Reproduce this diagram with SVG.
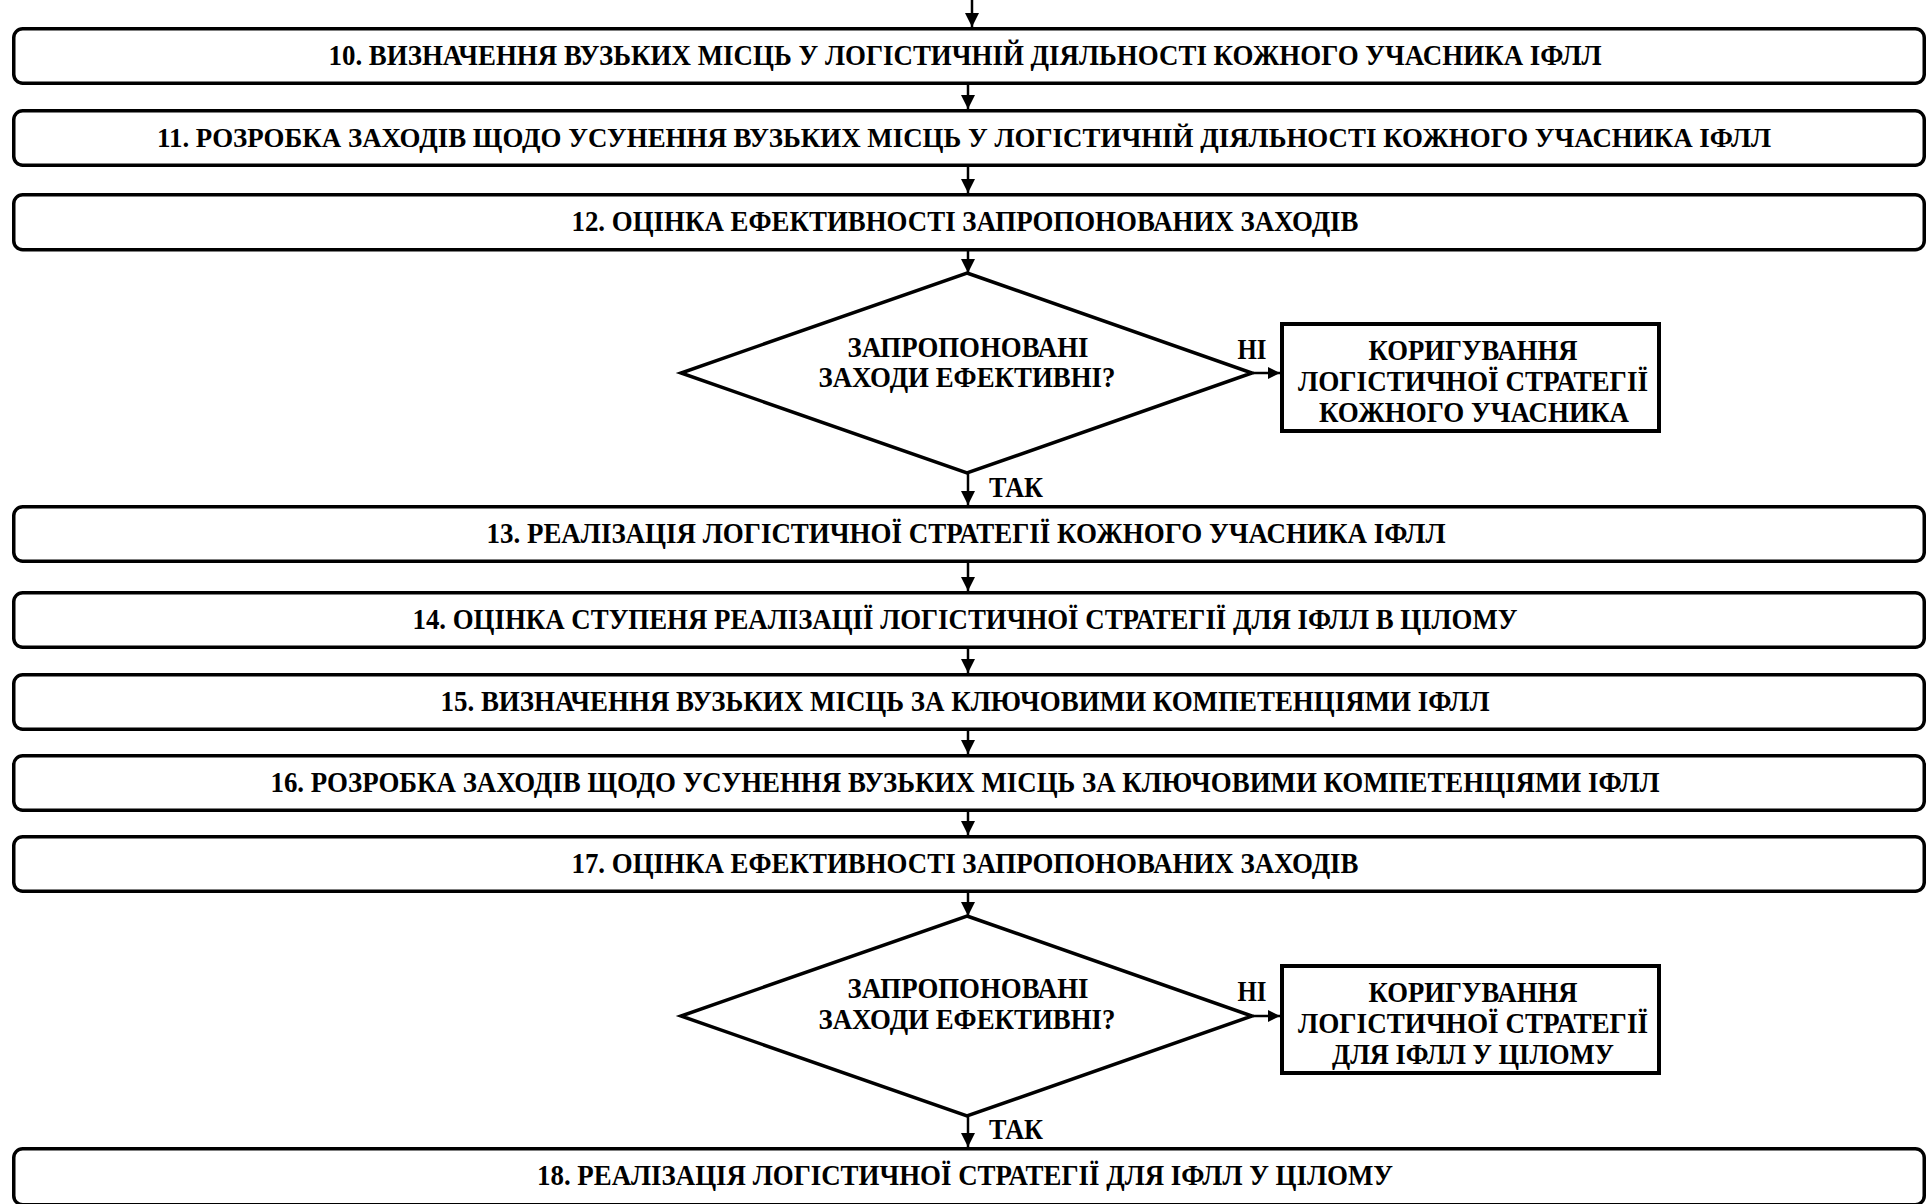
<svg xmlns="http://www.w3.org/2000/svg" width="1928" height="1204" viewBox="0 0 1928 1204">
  <defs>
    <style>
      .box { fill: #ffffff; stroke: #000000; stroke-width: 3.5; }
      .sq { fill: #ffffff; stroke: #000000; stroke-width: 4; }
      .dia { fill: #ffffff; stroke: #000000; stroke-width: 3.5; stroke-linejoin: miter; }
      .t { font-family: "Liberation Serif", "Times New Roman", serif; font-weight: bold; font-size: 30px; fill: #000000; text-anchor: middle; }
      .lbl { font-family: "Liberation Serif", "Times New Roman", serif; font-weight: bold; font-size: 30px; fill: #000000; }
      .con { stroke: #000000; stroke-width: 2.5; fill: none; }
    </style>
    <marker id="arr" viewBox="0 0 14 14" refX="14" refY="7" markerWidth="14" markerHeight="14" markerUnits="userSpaceOnUse" orient="auto">
      <path d="M0,0 L14,7 L0,14 z" fill="#000000"/>
    </marker>
    <marker id="arrs" viewBox="0 0 12 12" refX="12" refY="6" markerWidth="12" markerHeight="12" markerUnits="userSpaceOnUse" orient="auto">
      <path d="M0,0 L12,6 L0,12 z" fill="#000000"/>
    </marker>
  </defs>
  <rect x="0" y="0" width="1928" height="1204" fill="#ffffff"/>

  <g id="connectors">
    <line class="con" x1="972" y1="0" x2="972" y2="27" marker-end="url(#arr)"/>
    <line class="con" x1="968" y1="85" x2="968" y2="109" marker-end="url(#arr)"/>
    <line class="con" x1="968" y1="167" x2="968" y2="193" marker-end="url(#arr)"/>
    <line class="con" x1="968" y1="251" x2="968" y2="273" marker-end="url(#arr)"/>
    <line class="con" x1="968" y1="474" x2="968" y2="505" marker-end="url(#arr)"/>
    <line class="con" x1="1253" y1="373" x2="1280" y2="373" marker-end="url(#arrs)"/>
    <line class="con" x1="968" y1="563" x2="968" y2="591" marker-end="url(#arr)"/>
    <line class="con" x1="968" y1="649" x2="968" y2="673" marker-end="url(#arr)"/>
    <line class="con" x1="968" y1="731" x2="968" y2="754" marker-end="url(#arr)"/>
    <line class="con" x1="968" y1="812" x2="968" y2="835" marker-end="url(#arr)"/>
    <line class="con" x1="968" y1="893" x2="968" y2="916" marker-end="url(#arr)"/>
    <line class="con" x1="968" y1="1117" x2="968" y2="1147" marker-end="url(#arr)"/>
    <line class="con" x1="1253" y1="1016" x2="1280" y2="1016" marker-end="url(#arrs)"/>
    <text class="lbl" x="1252" y="359" text-anchor="middle" textLength="29" lengthAdjust="spacingAndGlyphs">НІ</text>
    <text class="lbl" x="989" y="497" textLength="54" lengthAdjust="spacingAndGlyphs">ТАК</text>
    <text class="lbl" x="1252" y="1001" text-anchor="middle" textLength="29" lengthAdjust="spacingAndGlyphs">НІ</text>
    <text class="lbl" x="989" y="1139" textLength="54" lengthAdjust="spacingAndGlyphs">ТАК</text>
  </g>

  <g id="step10">
    <rect class="box" x="13.75" y="28.75" width="1910.5" height="54.5" rx="9"/>
    <text class="t" x="965" y="65" textLength="1273" lengthAdjust="spacingAndGlyphs">10. ВИЗНАЧЕННЯ ВУЗЬКИХ МІСЦЬ У ЛОГІСТИЧНІЙ ДІЯЛЬНОСТІ КОЖНОГО УЧАСНИКА ІФЛЛ</text>
  </g>
  <g id="step11">
    <rect class="box" x="13.75" y="110.75" width="1910.5" height="54.5" rx="9"/>
    <text class="t" x="964" y="147" style="font-size:28px" textLength="1614" lengthAdjust="spacingAndGlyphs">11. РОЗРОБКА ЗАХОДІВ ЩОДО УСУНЕННЯ ВУЗЬКИХ МІСЦЬ У ЛОГІСТИЧНІЙ ДІЯЛЬНОСТІ КОЖНОГО УЧАСНИКА ІФЛЛ</text>
  </g>
  <g id="step12">
    <rect class="box" x="13.75" y="194.75" width="1910.5" height="55" rx="9"/>
    <text class="t" x="965" y="231" textLength="787" lengthAdjust="spacingAndGlyphs">12. ОЦІНКА ЕФЕКТИВНОСТІ ЗАПРОПОНОВАНИХ ЗАХОДІВ</text>
  </g>
  <g id="decision1">
    <polygon class="dia" points="967,273 1252,373 967,473 681,373"/>
    <text class="t" x="968" y="357" textLength="241" lengthAdjust="spacingAndGlyphs">ЗАПРОПОНОВАНІ</text>
    <text class="t" x="967" y="387" textLength="297" lengthAdjust="spacingAndGlyphs">ЗАХОДИ ЕФЕКТИВНІ?</text>
  </g>
  <g id="correction1">
    <rect class="sq" x="1282" y="324" width="377" height="107"/>
    <text class="t" x="1473" y="360" textLength="209" lengthAdjust="spacingAndGlyphs">КОРИГУВАННЯ</text>
    <text class="t" x="1473" y="391" textLength="350" lengthAdjust="spacingAndGlyphs">ЛОГІСТИЧНОЇ СТРАТЕГІЇ</text>
    <text class="t" x="1474" y="422" textLength="310" lengthAdjust="spacingAndGlyphs">КОЖНОГО УЧАСНИКА</text>
  </g>
  <g id="step13">
    <rect class="box" x="13.75" y="506.75" width="1910.5" height="54.5" rx="9"/>
    <text class="t" x="966" y="543" textLength="959" lengthAdjust="spacingAndGlyphs">13. РЕАЛІЗАЦІЯ ЛОГІСТИЧНОЇ СТРАТЕГІЇ КОЖНОГО УЧАСНИКА ІФЛЛ</text>
  </g>
  <g id="step14">
    <rect class="box" x="13.75" y="592.75" width="1910.5" height="54.5" rx="9"/>
    <text class="t" x="965" y="629" textLength="1105" lengthAdjust="spacingAndGlyphs">14. ОЦІНКА СТУПЕНЯ РЕАЛІЗАЦІЇ ЛОГІСТИЧНОЇ СТРАТЕГІЇ ДЛЯ ІФЛЛ В ЦІЛОМУ</text>
  </g>
  <g id="step15">
    <rect class="box" x="13.75" y="674.75" width="1910.5" height="54.5" rx="9"/>
    <text class="t" x="965" y="711" textLength="1049" lengthAdjust="spacingAndGlyphs">15. ВИЗНАЧЕННЯ ВУЗЬКИХ МІСЦЬ ЗА КЛЮЧОВИМИ КОМПЕТЕНЦІЯМИ ІФЛЛ</text>
  </g>
  <g id="step16">
    <rect class="box" x="13.75" y="755.75" width="1910.5" height="54.5" rx="9"/>
    <text class="t" x="965" y="792" textLength="1389" lengthAdjust="spacingAndGlyphs">16. РОЗРОБКА ЗАХОДІВ ЩОДО УСУНЕННЯ ВУЗЬКИХ МІСЦЬ ЗА КЛЮЧОВИМИ КОМПЕТЕНЦІЯМИ ІФЛЛ</text>
  </g>
  <g id="step17">
    <rect class="box" x="13.75" y="836.75" width="1910.5" height="54.5" rx="9"/>
    <text class="t" x="965" y="873" textLength="787" lengthAdjust="spacingAndGlyphs">17. ОЦІНКА ЕФЕКТИВНОСТІ ЗАПРОПОНОВАНИХ ЗАХОДІВ</text>
  </g>
  <g id="decision2">
    <polygon class="dia" points="967,916 1252,1016 967,1116 681,1016"/>
    <text class="t" x="968" y="998" textLength="241" lengthAdjust="spacingAndGlyphs">ЗАПРОПОНОВАНІ</text>
    <text class="t" x="967" y="1029" textLength="297" lengthAdjust="spacingAndGlyphs">ЗАХОДИ ЕФЕКТИВНІ?</text>
  </g>
  <g id="correction2">
    <rect class="sq" x="1282" y="966" width="377" height="107"/>
    <text class="t" x="1473" y="1002" textLength="209" lengthAdjust="spacingAndGlyphs">КОРИГУВАННЯ</text>
    <text class="t" x="1473" y="1033" textLength="350" lengthAdjust="spacingAndGlyphs">ЛОГІСТИЧНОЇ СТРАТЕГІЇ</text>
    <text class="t" x="1473" y="1064" textLength="282" lengthAdjust="spacingAndGlyphs">ДЛЯ ІФЛЛ У ЦІЛОМУ</text>
  </g>
  <g id="step18">
    <rect class="box" x="13.75" y="1148.75" width="1910.5" height="56" rx="9"/>
    <text class="t" x="965" y="1185" textLength="856" lengthAdjust="spacingAndGlyphs">18. РЕАЛІЗАЦІЯ ЛОГІСТИЧНОЇ СТРАТЕГІЇ ДЛЯ ІФЛЛ У ЦІЛОМУ</text>
  </g>
</svg>
